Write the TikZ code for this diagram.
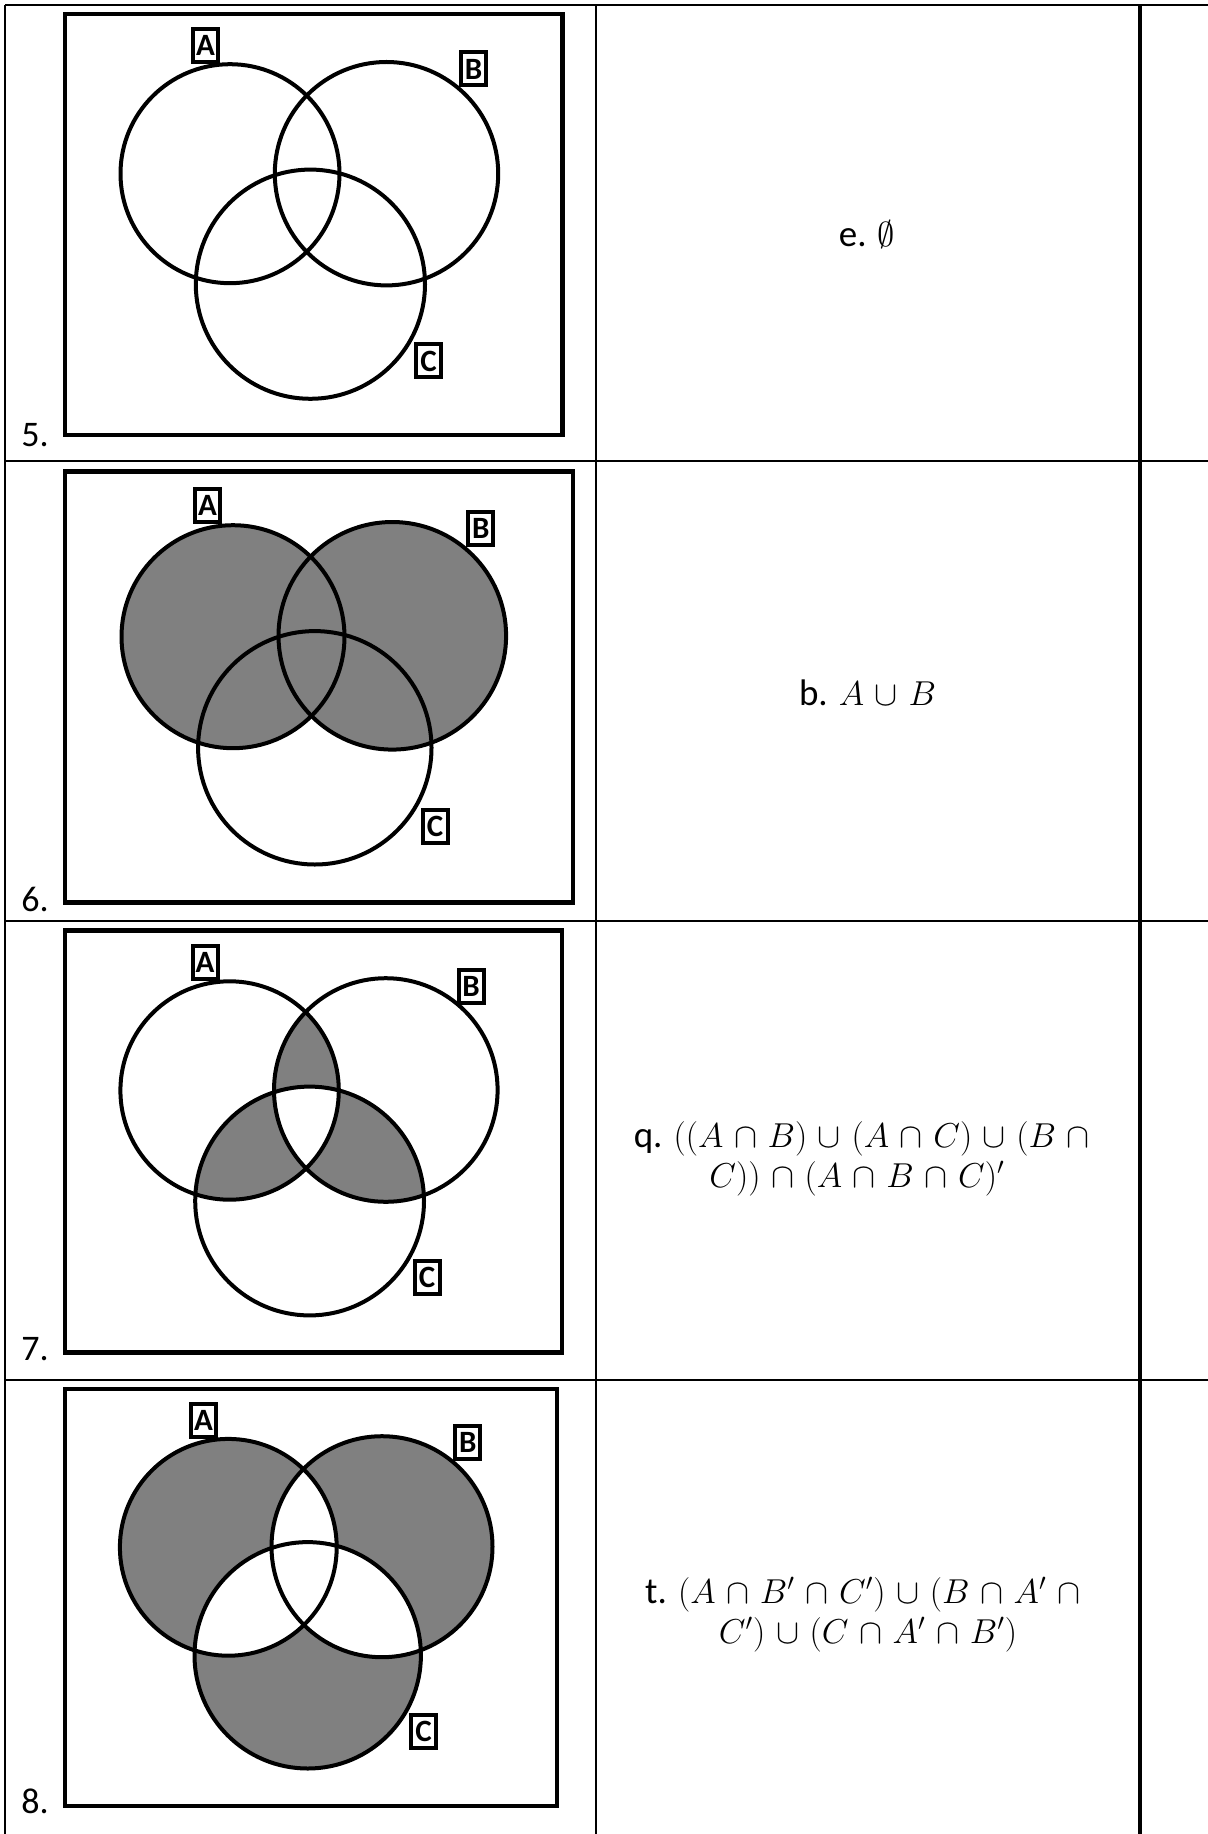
\documentclass[tikz,border=0pt]{standalone}
\usepackage{fontspec}
\setmainfont{Carlito}
\newfontfamily\lblfont{Carlito}
\usepackage{amssymb}
\definecolor{vgray}{HTML}{808080}
\newcommand\widemath{\medmuskip=5.5mu\relax}
\tikzset{
  tline/.style={line width=0.6pt},
  tthick/.style={line width=1.6pt},
  frame/.style={line width=2.4pt},
  circ/.style={line width=2pt},
  lbl/.style={draw, line width=2pt, fill=white, inner sep=0pt, minimum width=12.5pt, minimum height=16.5pt, font=\lblfont\bfseries\fontsize{15.5}{16}\selectfont},
  mtxt/.style={inner sep=0pt, anchor=base, font=\fontsize{18.5}{20}\selectfont},
  num/.style={inner sep=0pt, anchor=base west, font=\fontsize{18}{20}\selectfont}
}
\begin{document}
\begin{tikzpicture}[x=0.5pt,y=-0.5pt]
\useasboundingbox (0,0) rectangle (1208,1834);
% table
\draw[tline] (5,5) -- (1208,5);
\draw[tline] (5,461) -- (1208,461);
\draw[tline] (5,921) -- (1208,921);
\draw[tline] (5,1380) -- (1208,1380);
\draw[tline] (5,5) -- (5,1834);
\draw[tline] (596,5) -- (596,1834);
\draw[tthick] (1140,5) -- (1140,1834);

% ---------- Row 1 (5.) ----------
\draw[frame] (65,14) rectangle (562.5,435);
\draw[circ] (230,173.7) circle[radius=109.5];
\draw[circ] (386.5,173.7) circle[radius=111.7];
\draw[circ] (310.4,284.2) circle[radius=114.6];
\node[lbl] (a5) at (205.6,45.5) {A};
\node[lbl] (b5) at (473.5,69) {B};
\node[lbl] (c5) at (428.6,361) {C};
\node[num] (n5) at (21,446) {5.};
\node[mtxt] (t5) at (867,246.7) {e. $\emptyset$};

% ---------- Row 2 (6.) ----------
\draw[frame] (65,471.7) rectangle (573,902.3);
\fill[vgray] (233,636.7) circle[radius=111.5];
\fill[vgray] (392.3,635.8) circle[radius=113.8];
\draw[circ] (233,636.7) circle[radius=111.5];
\draw[circ] (392.3,635.8) circle[radius=113.8];
\draw[circ] (314.8,747.8) circle[radius=116.7];
\node[lbl] (a6) at (207.6,505.3) {A};
\node[lbl] (b6) at (480.7,528.7) {B};
\node[lbl] (c6) at (435,826) {C};
\node[num] (n6) at (21,911.7) {6.};
\node[mtxt] (t6) at (867.5,705) {b. $\widemath A\cup B$};

% ---------- Row 3 (7.) ----------
\draw[frame] (65,930.7) rectangle (562,1352.7);
\begin{scope}
  \clip (229.6,1090.5) circle[radius=109.2];
  \fill[vgray] (385.8,1090) circle[radius=111.8];
  \fill[vgray] (309.6,1201) circle[radius=114.4];
\end{scope}
\begin{scope}
  \clip (385.8,1090) circle[radius=111.8];
  \fill[vgray] (309.6,1201) circle[radius=114.4];
\end{scope}
\begin{scope}
  \clip (229.6,1090.5) circle[radius=109.2];
  \clip (385.8,1090) circle[radius=111.8];
  \fill[white] (309.6,1201) circle[radius=114.4];
\end{scope}
\draw[circ] (229.6,1090.5) circle[radius=109.2];
\draw[circ] (385.8,1090) circle[radius=111.8];
\draw[circ] (309.6,1201) circle[radius=114.4];
\node[lbl] (a7) at (205,962.5) {A};
\node[lbl] (b7) at (471,986) {B};
\node[lbl] (c7) at (427,1277.3) {C};
\node[num] (n7) at (21,1360) {7.};
\node[mtxt] (t7a) at (867,1147) {q. $\widemath((A\cap B)\cup(A\cap C)\cup(B\cap{}$};
\node[mtxt] (t7b) at (857,1187) {$\widemath C))\cap(A\cap B\cap C)'$};

% ---------- Row 4 (8.) ----------
\draw[frame] (65,1389) rectangle (557,1806);
\fill[vgray] (228.3,1547.3) circle[radius=108.4];
\fill[vgray] (382,1546.7) circle[radius=110.5];
\fill[vgray] (307.7,1655.3) circle[radius=113.2];
\begin{scope}
  \clip (228.3,1547.3) circle[radius=108.4];
  \fill[white] (382,1546.7) circle[radius=110.5];
  \fill[white] (307.7,1655.3) circle[radius=113.2];
\end{scope}
\begin{scope}
  \clip (382,1546.7) circle[radius=110.5];
  \fill[white] (307.7,1655.3) circle[radius=113.2];
\end{scope}
\draw[circ] (228.3,1547.3) circle[radius=108.4];
\draw[circ] (382,1546.7) circle[radius=110.5];
\draw[circ] (307.7,1655.3) circle[radius=113.2];
\node[lbl] (a8) at (203.4,1420.3) {A};
\node[lbl] (b8) at (467.8,1442.8) {B};
\node[lbl] (c8) at (423.5,1731.7) {C};
\node[num] (n8) at (21,1813) {8.};
\node[mtxt] (t8a) at (868,1603) {t. $\widemath(A\cap B'\cap C')\cup(B\cap A'\cap{}$};
\node[mtxt] (t8b) at (868,1643) {$\widemath C')\cup(C\cap A'\cap B')$};
\end{tikzpicture}
\end{document}
